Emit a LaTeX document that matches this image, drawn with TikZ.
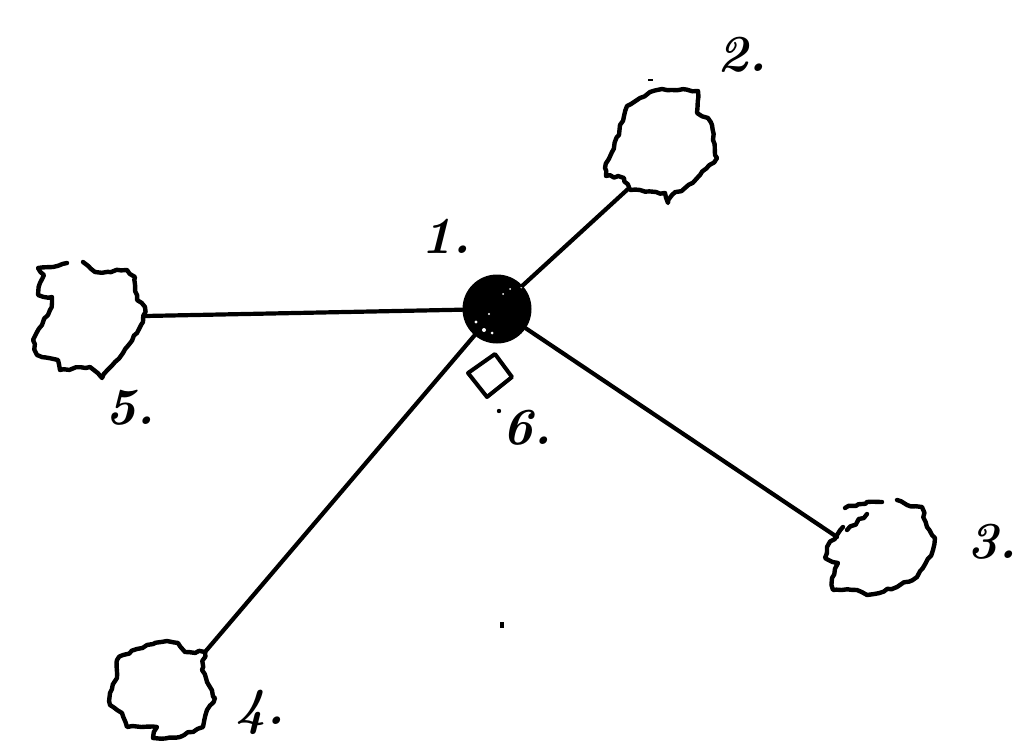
\documentclass[tikz,border=0pt]{standalone}
\usetikzlibrary{decorations.pathmorphing}
\begin{document}
\begin{tikzpicture}[x=1pt,y=-1pt,
  ink/.style={line width=4.4pt, line join=round, line cap=round,
    decorate, decoration={random steps, segment length=5pt, amplitude=1.3pt}},
  spoke/.style={line width=4.2pt, line cap=round},
  lab/.style={font=\fontsize{52}{52}\selectfont\bfseries\itshape, inner sep=0pt}]
\pgfmathsetseed{7}
\useasboundingbox (0,0) rectangle (1018,747);
\fill[white] (0,0) rectangle (1018,747);

% hub
\node[circle, fill=black, minimum size=69pt, inner sep=0pt] (hub) at (497,309) {};
\draw[white, line width=1.4pt] (521,288) arc[start angle=40, end angle=-25, radius=30];
\fill[white] (476,322) circle (1.6pt) (484,330) circle (2pt) (492,333) circle (1.5pt) (489,314) circle (1.2pt) (503,294) circle (1pt) (510,289) circle (1pt);

% cloud 2
\draw[ink] (650,92) -- (662,89) -- (672,90) -- (698,91) -- (697,113) -- (708,118) -- (712,125)
  -- (713,140) -- (715,155) -- (717,158) -- (700,175) -- (685,188) -- (672,195) -- (668,203)
  -- (665,193) -- (640,190) -- (630,190) -- (624,178) -- (606,176) -- (605,168) -- (612,152)
  -- (619,135) -- (620,125) -- (624,116) -- (627,106) -- (640,98) -- cycle;
\coordinate (c2) at (628,189);

% cloud 5
\draw[ink] (67,263) -- (53,267) -- (38,268) -- (44,275) -- (40,283) -- (38,295) -- (52,297)
  -- (50,310) -- (42,325) -- (33,340) -- (37,355) -- (58,360) -- (60,370) -- (90,367)
  -- (102,378) -- (115,362) -- (123,353) -- (137,333) -- (143,322) -- (145,307) -- (137,300)
  -- (135,277) -- (127,270) -- (95,272) -- (83,262);
\coordinate (c5) at (145,316);

% cloud 3
\draw[ink] (845,508) -- (867,502) -- (882,502);
\draw[ink] (897,500) -- (907,505) -- (922,507) -- (927,527)
  -- (935,538) -- (933,550) -- (917,577) -- (897,587) -- (867,595) -- (857,590) -- (833,590)
  -- (832,578) -- (838,563) -- (825,558) -- (827,547) -- (837,535) -- (843,527);
\draw[ink] (847,530) -- (867,514);
\coordinate (c3) at (837,537);

% cloud 4
\draw[ink] (123,655) -- (147,645) -- (167,641) -- (178,643) -- (185,652) -- (205,652)
  -- (202,670) -- (207,682) -- (215,698) -- (207,710) -- (203,727) -- (180,737) -- (153,738)
  -- (157,727) -- (127,727) -- (122,713) -- (110,705) -- (110,693) -- (117,678) -- (117,660) -- cycle;
\coordinate (c4) at (205,652);

% spokes
\draw[spoke] (hub) -- (c2);
\draw[spoke] (hub) -- (c5);
\draw[spoke] (hub) -- (c3);
\draw[spoke] (hub) -- (c4);

% marker 6
\draw[line width=4pt, line join=round] (468,373) -- (495,354) -- (512,377) -- (487,397) -- cycle;
\fill (499,411) circle (2.2pt);

% stray marks
\fill (500,622) rectangle (504,628);
\fill (648,79) rectangle (653,81);

% labels
\node[lab] (l1) at (446,236) {1.};
\node[lab] (l2) at (742,55) {2.};
\node[lab] (l3) at (992,542) {3.};
\node[lab] (l4) at (260,712) {4.};
\node[lab] (l5) at (130,408) {5.};
\node[lab] (l6) at (527,428) {6.};
\end{tikzpicture}
\end{document}
